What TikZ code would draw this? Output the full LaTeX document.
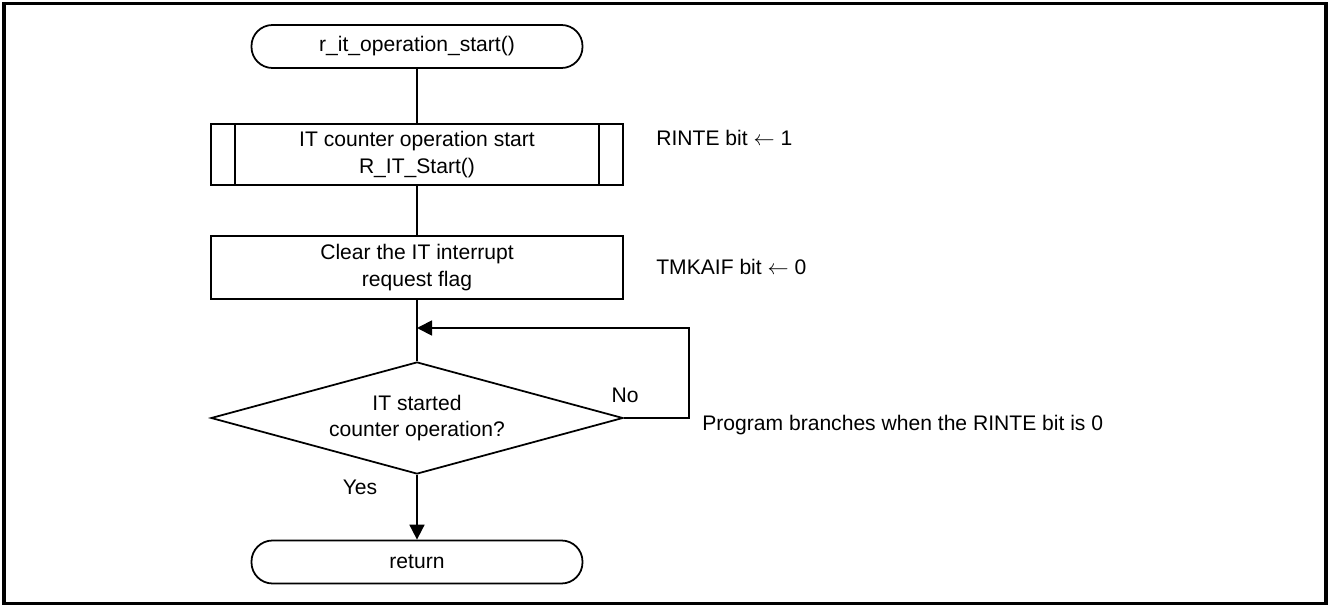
\documentclass[tikz,border=0pt]{standalone}
\usepackage{fontspec}
\setmainfont{Liberation Sans}
\usetikzlibrary{shapes.geometric,arrows.meta}

\begin{document}
\begin{tikzpicture}[
    font=\fontsize{12pt}{15.3pt}\selectfont,
    every node/.style={inner sep=0pt},
    terminale/.style={draw, line width=1pt, rounded corners=0.42cm, minimum width=6.62cm, minimum height=0.86cm},
    sottoprog/.style={draw, line width=1pt, minimum width=8.24cm, minimum height=1.22cm, align=center},
    processo/.style={draw, line width=1pt, minimum width=8.24cm, minimum height=1.26cm, align=center},
    decisione/.style={draw, diamond, line width=1pt, minimum width=8.24cm, minimum height=2.24cm, aspect=3.68, align=center},
    linea/.style={line width=1pt},
    freccia/.style={line width=1pt, -{Triangle[length=0.3cm,width=0.3cm]}},
    nota/.style={anchor=west}
]
    % Cornice
    \useasboundingbox (0,0) rectangle (26.6,12.14);
    \draw[line width=2pt] (0.08,0.07) rectangle (26.52,12.07);

    % Blocchi del diagramma
    \node[terminale] (inizio) at (8.34,11.21) {r\_it\_operation\_start()};
    \node[sottoprog] (avvio) at (8.34,9.05) {IT counter operation start\\R\_IT\_Start()};
    \draw[linea] ([xshift=0.5cm]avvio.north west) -- ([xshift=0.5cm]avvio.south west);
    \draw[linea] ([xshift=-0.5cm]avvio.north east) -- ([xshift=-0.5cm]avvio.south east);
    \node[processo] (azzera) at (8.34,6.79) {Clear the IT interrupt\\request flag};
    \node[decisione] (verifica) at (8.34,3.78) {IT started\\counter operation?};
    \node[terminale] (fine) at (8.34,0.9) {return};

    % Collegamenti
    \coordinate (rientro) at (8.34,5.58);
    \coordinate (angolo) at (13.78,5.58);
    \draw[linea] (inizio) -- (avvio);
    \draw[linea] (avvio) -- (azzera);
    \draw[linea] (azzera) -- (verifica);
    \draw[freccia] (verifica.east) -| (angolo) -- (rientro);
    \draw[freccia] (verifica) -- (fine);

    % Etichette dei rami
    \node (si) at (7.2,2.4) {Yes};
    \node (no) at (12.5,4.24) {No};

    % Note a destra
    \node[nota] (notaRinte) at (13.12,9.38) {RINTE bit $\leftarrow$ 1};
    \node[nota] (notaTmkaif) at (13.12,6.8) {TMKAIF bit $\leftarrow$ 0};
    \node[nota] (notaSalto) at (14.04,3.64) {Program branches when the RINTE bit is 0};

\end{tikzpicture}
\end{document}
